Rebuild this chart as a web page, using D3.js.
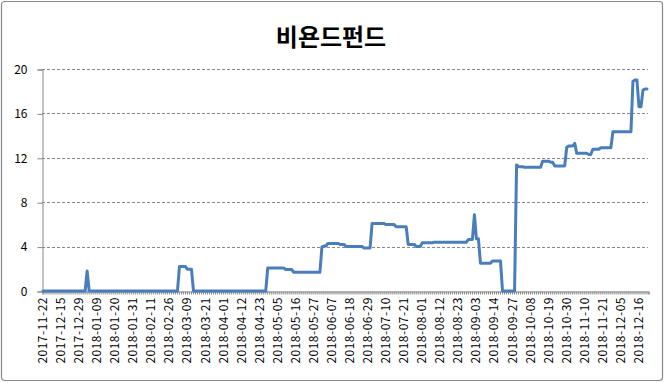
<!DOCTYPE html>
<html>
<head>
<meta charset="utf-8">
<script src="https://cdn.jsdelivr.net/npm/d3@7"></script>
<style>
  html, body { margin: 0; padding: 0; background: #fff; }
  svg { display: block; }
</style>
</head>
<body>
<script>
const title = "비욘드펀드";
const tickLabels = ["2017-11-22","2017-12-15","2017-12-29","2018-01-09","2018-01-20","2018-01-31","2018-02-11","2018-02-26","2018-03-09","2018-03-21","2018-04-01","2018-04-12","2018-04-23","2018-05-05","2018-05-16","2018-05-27","2018-06-07","2018-06-18","2018-06-29","2018-07-10","2018-07-21","2018-08-01","2018-08-12","2018-08-23","2018-09-03","2018-09-14","2018-09-27","2018-10-08","2018-10-19","2018-10-30","2018-11-10","2018-11-21","2018-12-05","2018-12-16"];
const labelEvery = 9;
const yTicks = [0, 4, 8, 12, 16, 20];
const values = [
  0,0,0,0,0,0,0,0,0,0, 0,0,0,0,0,0,0,0,0,0, 0,0,
  1.8,
  0,0,0,0,0,0,0,0,0,0, 0,0,0,0,0,0,0,0,0,0, 0,0,0,0,0,0,0,0,0,0, 0,0,0,0,0,0,0,0,0,0, 0,0,0,0,0,
  2.2,2.2,2.2,2.2,
  1.95,1.95,1.95,
  0,0,0,0,0,0,0,0,0,0, 0,0,0,0,0,0,0,0,0,0, 0,0,0,0,0,0,0,0,0,0, 0,0,0,0,0,0,0,
  2.07,2.07,2.07,2.07,2.07,2.07,2.07,2.07,2.07,
  1.93,1.93,1.93,1.93,
  1.68,1.68,1.68,1.68,1.68,1.68,1.68,1.68,1.68,1.68,1.68,1.68,1.68,1.68,
  3.98,
  4.05,4.05,
  4.28,4.28,4.28,4.28,4.28,4.28,
  4.2,4.2,4.2,
  4.0,4.0,4.0,4.0,4.0,4.0,4.0,4.0,4.0,
  3.88,3.88,3.88,3.88,
  6.07,6.07,6.07,6.07,6.07,6.07,6.07,
  5.98,5.98,5.98,5.98,5.98,
  5.78,5.78,5.78,5.78,5.78,5.78,
  4.2,4.2,4.2,4.2,
  4.0,4.0,4.0,
  4.35,4.35,4.35,4.35,4.35,4.35,
  4.4,4.4,4.4,4.4,4.4,4.4,4.4,4.4,4.4,4.4,4.4,4.4,4.4,4.4,4.4,4.4,4.4,
  4.65,4.65,4.65,
  6.87,
  4.7,4.7,
  2.5,2.5,2.5,2.5,2.5,2.5,
  2.7,2.7,2.7,2.7,2.7,
  0,0,0,0,0,0,0,
  11.36,
  11.2,11.2,11.2,
  11.15,11.15,11.15,11.15,11.15,11.15,11.15,11.15,11.15,
  11.7,11.7,11.7,11.7,
  11.6,11.6,
  11.27,11.27,11.27,11.27,11.27,11.27,
  12.95,
  13.07,13.07,13.07,
  13.3,
  12.4,12.4,12.4,12.4,12.4,12.4,
  12.3,12.3,
  12.77,12.77,12.77,12.77,
  12.9,12.9,12.9,12.9,12.9,12.9,
  14.34,14.34,14.34,14.34,14.34,14.34,14.34,14.34,14.34,14.34,
  18.9,
  19.0,19.0,
  16.6,16.6,
  18.1,
  18.2,18.2
];

const W = 664, H = 383;
const plot = {left: 42, right: 648, top: 69, bottom: 291};
const n = values.length;
const font = "'Noto Sans CJK KR', 'Noto Sans', sans-serif";

const svg = d3.select("body").append("svg").attr("width", W).attr("height", H);
svg.append("rect").attr("width", W).attr("height", H).attr("fill", "#fff");
svg.append("rect").attr("x", 1.5).attr("y", 1.5).attr("width", W - 3).attr("height", H - 4)
  .attr("rx", 3).attr("fill", "none").attr("stroke", "#888").attr("stroke-width", 1.2);

const x = d3.scaleLinear().domain([0, n]).range([plot.left, plot.right]);
const y = d3.scaleLinear().domain([0, 20]).range([plot.bottom, plot.top]);

// gridlines
svg.append("g").selectAll("line").data(yTicks.filter(d => d > 0)).join("line")
  .attr("x1", plot.left).attr("x2", plot.right)
  .attr("y1", d => Math.round(y(d)) + 0.5).attr("y2", d => Math.round(y(d)) + 0.5)
  .attr("stroke", "#878787").attr("stroke-width", 1).attr("stroke-dasharray", "3,2");

// y axis
const yAxis = d3.axisLeft(y).tickValues(yTicks).tickSize(5).tickPadding(10);
const gy = svg.append("g").attr("transform", `translate(${plot.left + 0.5},0.5)`).call(yAxis);
gy.select(".domain").attr("stroke", "#878787");
gy.selectAll(".tick line").attr("stroke", "#878787");
gy.selectAll(".tick text").attr("font-family", font).attr("font-size", 12).attr("fill", "#000");

// x axis: tick at every category boundary, labels every labelEvery categories
const xTickVals = d3.range(n + 1);
const xAxis = d3.axisBottom(x).tickValues(xTickVals).tickSize(3).tickFormat("");
const gx = svg.append("g").attr("transform", `translate(0.5,${plot.bottom + 0.5})`).call(xAxis);
gx.select(".domain").attr("stroke", "#878787");
gx.selectAll(".tick line").attr("stroke", "#878787");

svg.append("g").selectAll("text").data(tickLabels).join("text")
  .attr("transform", (d, i) => `translate(${x(i * labelEvery + 0.5) + 4},${plot.bottom + 6}) rotate(-90)`)
  .attr("text-anchor", "end")
  .attr("letter-spacing", 0.5)
  .attr("font-family", font).attr("font-size", 12).attr("fill", "#000")
  .text(d => d);

// line
const line = d3.line().x((d, i) => x(i + 0.5)).y(d => y(d)).curve(d3.curveLinear);
svg.append("path").datum(values).attr("d", line)
  .attr("fill", "none").attr("stroke", "#4a7ebb").attr("stroke-width", 3)
  .attr("stroke-linejoin", "round").attr("stroke-linecap", "round");

// title
svg.append("text").attr("x", 331).attr("y", 46).attr("text-anchor", "middle")
  .attr("font-family", font).attr("font-weight", "bold").attr("font-size", 24).attr("fill", "#000")
  .text(title);
</script>
</body>
</html>
